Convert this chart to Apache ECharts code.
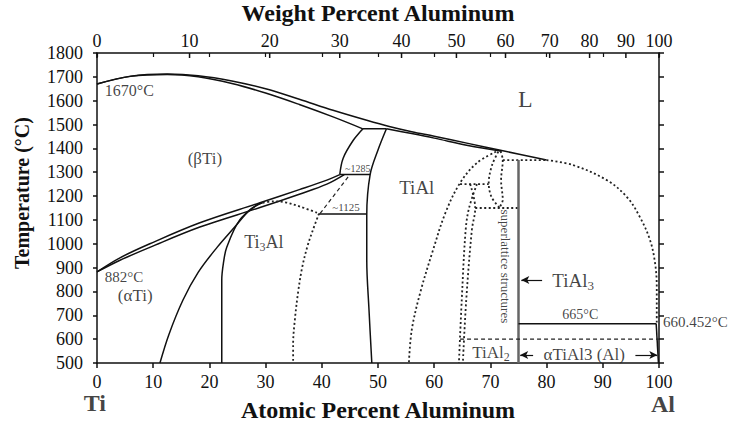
<!DOCTYPE html>
<html lang="en">
<head>
    <meta charset="UTF-8">
    <title>Ti-Al phase diagram</title>
    <script src="https://cdn.jsdelivr.net/npm/echarts@6/dist/echarts.min.js"></script>
    <style>
        html, body { margin: 0; padding: 0; background: #fff; }
        #chart { width: 741px; height: 423px; }
    </style>
</head>
<body>
    <div id="chart"></div>
    <script>
        // tick values
        const atTicks = [0, 10, 20, 30, 40, 50, 60, 70, 80, 90, 100];
        const wtTicks = [0, 10, 20, 30, 40, 50, 60, 70, 80, 90, 100];
        const tempTicks = [500, 1800];

        // phase boundaries, [at% Al, temperature C]
        const liquidus = [[0, 1670], [6, 1703], [12.5, 1712], [18, 1705], [24, 1683], [30, 1650], [36, 1606], [42, 1560], [48, 1518], [52, 1492], [56, 1470], [60, 1451], [66, 1421], [72, 1391], [80, 1351]];
        const betaSolidus = [[0, 1670], [6, 1702], [12.5, 1710], [18, 1700], [24, 1672], [30, 1632], [36, 1584], [42, 1532], [47.3, 1482]];
        const peritectic = [[47.3, 1482], [51.5, 1482]];
        const alphaSolidus = [[51.5, 1482], [56, 1462], [60, 1443], [66, 1412], [72, 1388]];
        const alphaRight = [[51.5, 1482], [50, 1393], [48.6, 1290], [48.0, 1121], [48.0, 932], [48.4, 722], [48.9, 500]];
        const betaUpper = [[43.2, 1290], [43.8, 1359], [45.6, 1434], [47.3, 1482]];
        const line1285 = [[43.2, 1290], [48.6, 1290]];
        const betaTransus = [[0, 882], [4, 940], [9.4, 1000], [18.3, 1088], [29, 1172], [36, 1227], [40.9, 1267], [43.2, 1290]];
        const alphaTransus = [[0, 882], [4, 930], [9.4, 985], [18.3, 1070], [29, 1152], [36, 1208], [40.9, 1250], [44, 1290]];
        const alphaAlpha2 = [[11.2, 500], [12.8, 620], [15.3, 764], [18, 880], [21.4, 986], [24.5, 1070], [27.2, 1142], [29.3, 1172]];
        const alpha2Left = [[22.2, 500], [22.2, 700], [22.2, 848], [22.5, 920], [23.1, 986], [25.4, 1100], [28.5, 1163], [29.5, 1172]];
        const alpha2Top = [[29.5, 1172], [31.5, 1178], [33.5, 1174], [36, 1157], [39.5, 1127]];
        const alpha2Right = [[39.5, 1127], [38.3, 1050], [37.4, 986], [36.5, 900], [35.8, 800], [35.2, 680], [34.9, 580], [34.9, 500]];
        const dash1125 = [[39.7, 1127], [45, 1290]];
        const line1125 = [[39.5, 1125], [48, 1125]];
        const gammaRight = [[71, 1386], [67.6, 1339], [64.6, 1255], [62, 1130], [59.8, 974], [57.5, 794], [56, 638], [55.5, 500]];
        const lensLeft = [[71.4, 1386], [70.3, 1330], [69.7, 1255], [70.2, 1196], [71.6, 1152]];
        const lensRight = [[71.8, 1388], [72.2, 1350], [71.9, 1267], [72.2, 1184], [71.6, 1152]];
        const dot1250 = [[64.6, 1250], [69.7, 1250]];
        const dot1150 = [[67.3, 1150], [75, 1150]];
        const tial2Left = [[67.6, 1250], [66.2, 1150], [65.6, 1058], [64.9, 764], [64.4, 500]];
        const tial2Right = [[66.4, 1250], [67.3, 1150], [66.7, 1058], [65.7, 764], [65.1, 500]];
        const dot1351 = [[72.2, 1351], [80, 1351]];
        const tial3 = [[75, 1351], [75, 500]];
        const liquidusAl = [[80, 1351], [84.7, 1330], [90.7, 1267], [94.3, 1196], [96.6, 1112], [98.4, 1016], [99.3, 919], [99.6, 819], [99.6, 665]];
        const line665 = [[75, 665], [99.5, 665]];
        const alSolvus = [[99.5, 665], [99.9, 500]];
        const dash600 = [[64.6, 600], [100, 600]];

        // text on the diagram
        const notes = [
            ['L', 76.2, 1607], ['1670°C', 1.4, 1641], ['(βTi)', 19.2, 1356],
            ['~1285', 46.4, 1314], ['~1125', 44.3, 1154], ['TiAl', 56.9, 1234],
            ['{a|Ti}{b|3}{a|Al}', 29.7, 1007], ['882°C', 1.4, 861], ['(αTi)', 6.8, 785],
            ['{a|TiAl}{b|3}', 81.0, 848], ['665°C', 86.0, 705], ['660.452°C', 100.7, 672],
            ['{a|TiAl}{b|2}', 70.1, 546], ['αTiAl3 (Al)', 86.7, 534], ['superlattice structures', 72.6, 905],
            ['Ti', -0.4, 332], ['Al', 100.7, 328]
        ];
        const noteLook = [
            { fontSize: 24 }, { fontSize: 16, align: 'left' }, { fontSize: 17 },
            { fontSize: 10 }, { fontSize: 11 }, { fontSize: 19 },
            { fontSize: 18, sub: 12 }, { fontSize: 15, align: 'left' }, { fontSize: 17 },
            { fontSize: 19, sub: 13, align: 'left' }, { fontSize: 14 }, { fontSize: 15, align: 'left' },
            { fontSize: 17, sub: 12 }, { fontSize: 17 }, { fontSize: 13, rotate: -90 },
            { fontSize: 24, fontWeight: 'bold' }, { fontSize: 24, fontWeight: 'bold' }
        ];
        const arrows = [[[79.2, 848], [75.5, 848]], [[77.6, 534], [75.3, 534]], [[95.8, 534], [99.7, 534]]];

        const SERIF = '"Liberation Serif", "Times New Roman", serif';
        const SOLID = { color: '#111', width: 1.5, type: 'solid' };
        const DOT = { color: '#222', width: 1.8, type: [2, 2.5] };
        const DASH = { color: '#222', width: 1.2, type: [4, 3] };

        function wtToAt(w) {
            const a = w / 26.98, b = (100 - w) / 47.87;
            return 100 * a / (a + b);
        }

        function curve(data, style, smooth) {
            return {
                type: 'line', data: data, symbol: 'none', silent: true,
                smooth: smooth ? 0.35 : false, lineStyle: style, z: 3
            };
        }

        const chart = echarts.init(document.getElementById('chart'), null, { renderer: 'svg' });

        const series = [
            curve(liquidus, SOLID, true),
            curve(betaSolidus, SOLID, true),
            curve(peritectic, SOLID, false),
            curve(alphaSolidus, SOLID, true),
            curve(alphaRight, SOLID, true),
            curve(betaUpper, SOLID, true),
            curve(line1285, SOLID, false),
            curve(betaTransus, SOLID, true),
            curve(alphaTransus, SOLID, true),
            curve(alphaAlpha2, SOLID, true),
            curve(alpha2Left, SOLID, true),
            curve(alpha2Top, DOT, true),
            curve(alpha2Right, DOT, true),
            curve(dash1125, DASH, false),
            curve(line1125, SOLID, false),
            curve(gammaRight, DOT, true),
            curve(lensLeft, DOT, true),
            curve(lensRight, DOT, true),
            curve(dot1250, DOT, false),
            curve(dot1150, DOT, false),
            curve(tial2Left, DOT, true),
            curve(tial2Right, DOT, true),
            curve(dot1351, DOT, false),
            curve(tial3, { color: '#666', width: 2.5, type: 'solid' }, false),
            curve(liquidusAl, DOT, true),
            curve(line665, SOLID, false),
            curve(alSolvus, SOLID, false),
            curve(dash600, DASH, false),
            {
                type: 'line', data: [], silent: true,
                markLine: {
                    silent: true, symbol: ['none', 'arrow'], symbolSize: [6, 8],
                    label: { show: false },
                    lineStyle: { color: '#111', width: 1.2, type: 'solid' },
                    data: arrows.map(a => [{ coord: a[0] }, { coord: a[1] }])
                }
            },
            {
                type: 'scatter', symbolSize: 0, silent: true, clip: false, z: 5,
                data: notes.map((n, i) => {
                    const look = noteLook[i];
                    const rich = look.sub ? {
                        a: { fontSize: look.fontSize, fontFamily: SERIF, color: '#111', lineHeight: look.fontSize + 4 },
                        b: { fontSize: look.sub, fontFamily: SERIF, color: '#111', verticalAlign: 'bottom', lineHeight: look.sub }
                    } : undefined;
                    return {
                        value: [n[1], n[2]],
                        label: {
                            show: true, position: 'inside', formatter: n[0],
                            fontSize: look.fontSize, fontFamily: SERIF, color: '#111',
                            fontWeight: look.fontWeight || 'normal',
                            align: look.align || 'center', verticalAlign: 'middle',
                            rotate: look.rotate || 0, rich: rich
                        }
                    };
                })
            },
            {
                // weight percent scale along the top edge
                type: 'custom', xAxisIndex: 1, yAxisIndex: 0, silent: true, clip: false, z: 5,
                data: wtTicks.map(w => [wtToAt(w), tempTicks[1], w]),
                renderItem: function (params, api) {
                    const p = api.coord([api.value(0), api.value(1)]);
                    return {
                        type: 'group',
                        children: [
                            { type: 'line', shape: { x1: p[0], y1: p[1], x2: p[0], y2: p[1] + 5 }, style: { stroke: '#111', lineWidth: 1.5 } },
                            {
                                type: 'text', x: p[0], y: p[1] - 3,
                                style: { text: String(api.value(2)), font: '18px ' + SERIF, fill: '#111', textAlign: 'center', textVerticalAlign: 'bottom', align: 'center', verticalAlign: 'bottom' }
                            }
                        ]
                    };
                }
            }
        ];

        const axisLine = { show: true, onZero: false, lineStyle: { color: '#111', width: 1.5 } };
        const plain = v => String(v);

        chart.setOption({
            animation: false,
            grid: { left: 97, right: 82, top: 53, bottom: 60, containLabel: false, outerBoundsMode: 'none' },
            xAxis: [
                {
                    type: 'value', position: 'bottom', min: atTicks[0], max: atTicks[atTicks.length - 1], interval: 10,
                    axisLine: axisLine, splitLine: { show: false },
                    axisTick: { show: true, inside: false, length: 5, lineStyle: { color: '#111', width: 1.5 } },
                    axisLabel: { fontSize: 18, fontFamily: SERIF, color: '#111', margin: 10, formatter: plain },
                    name: 'Atomic Percent Aluminum', nameLocation: 'middle', nameGap: 35,
                    nameTextStyle: { fontSize: 24, fontWeight: 'bold', fontFamily: SERIF, color: '#111' }
                },
                {
                    type: 'value', position: 'top', min: atTicks[0], max: atTicks[atTicks.length - 1], interval: 10,
                    axisLine: axisLine, splitLine: { show: false },
                    axisTick: { show: true, inside: true, length: 4, lineStyle: { color: '#111', width: 1.2 } },
                    axisLabel: { show: false },
                    name: 'Weight Percent Aluminum', nameLocation: 'middle', nameGap: 28,
                    nameTextStyle: { fontSize: 24, fontWeight: 'bold', fontFamily: SERIF, color: '#111' }
                }
            ],
            yAxis: [
                {
                    type: 'value', position: 'left', min: tempTicks[0], max: tempTicks[1], interval: 100,
                    axisLine: axisLine, splitLine: { show: false },
                    axisTick: { show: true, inside: false, length: 4, lineStyle: { color: '#111', width: 1.5 } },
                    axisLabel: { fontSize: 18, fontFamily: SERIF, color: '#111', margin: 14, formatter: plain },
                    name: 'Temperature (°C)', nameLocation: 'middle', nameRotate: 90, nameGap: 65,
                    nameTextStyle: { fontSize: 20, fontWeight: 'bold', fontFamily: SERIF, color: '#111', padding: [0, 0, 0, 30] }
                },
                {
                    type: 'value', position: 'right', min: tempTicks[0], max: tempTicks[1], interval: 100,
                    axisLine: axisLine, splitLine: { show: false },
                    axisTick: { show: true, inside: false, length: 5, lineStyle: { color: '#111', width: 1.5 } },
                    axisLabel: { show: false }
                }
            ],
            series: series
        });
    </script>
</body>
</html>
